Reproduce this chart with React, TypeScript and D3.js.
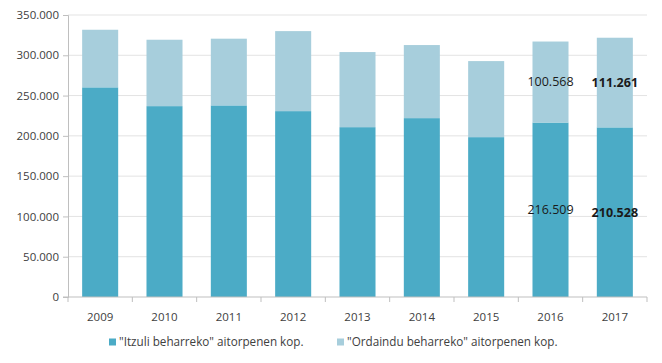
import { useEffect, useRef } from "react";
import * as d3 from "d3";

const years = ["2009", "2010", "2011", "2012", "2013", "2014", "2015", "2016", "2017"];
const itzuli = [260200, 236900, 237800, 230700, 210800, 222000, 198400, 216509, 210528];
const ordaindu = [71500, 82400, 82800, 99300, 93200, 90700, 94400, 100568, 111261];
const yTicks = [0, 50000, 100000, 150000, 200000, 250000, 300000, 350000];
const labelled = [
  { year: "2016", bold: false },
  { year: "2017", bold: true },
];
const legendNames = ['"Itzuli beharreko" aitorpenen kop.', '"Ordaindu beharreko" aitorpenen kop.'];

const DARK = "#4babc6";
const LIGHT = "#a7cedc";
const FONT = "'Open Sans', 'Noto Sans', sans-serif";

const fmt = (v: number) => d3.format(",")(v).replace(/,/g, ".");

export default function App() {
  const svgRef = useRef<SVGSVGElement>(null);

  useEffect(() => {
    if (!svgRef.current) return;
    const svg = d3.select(svgRef.current);
    svg.selectAll("*").remove();

    const width = 662, height = 363;
    const margin = { top: 15, right: 15, bottom: 66, left: 68 };
    const x = d3.scaleBand().domain(years).range([margin.left, width - margin.right]).paddingInner(0.44).paddingOuter(0.22);
    const y = d3.scaleLinear().domain([0, 350000]).range([height - margin.bottom, margin.top]);

    // grid
    svg.append("g").selectAll("line").data(yTicks.slice(1)).join("line")
      .attr("x1", margin.left).attr("x2", width - margin.right)
      .attr("y1", (d) => y(d)).attr("y2", (d) => y(d))
      .attr("stroke", "#e3e3e3").attr("stroke-width", 1);

    const data = years.map((yr, i) => ({ yr, a: itzuli[i], b: ordaindu[i] }));

    svg.append("g").selectAll("rect").data(data).join("rect")
      .attr("x", (d) => x(d.yr)!).attr("width", x.bandwidth())
      .attr("y", (d) => y(d.a)).attr("height", (d) => y(0) - y(d.a))
      .attr("fill", DARK);
    svg.append("g").selectAll("rect").data(data).join("rect")
      .attr("x", (d) => x(d.yr)!).attr("width", x.bandwidth())
      .attr("y", (d) => y(d.a + d.b)).attr("height", (d) => y(d.a) - y(d.a + d.b))
      .attr("fill", LIGHT);

    // axes
    const yAxis = svg.append("g").attr("transform", `translate(${margin.left},0)`)
      .call(d3.axisLeft(y).tickValues(yTicks).tickFormat((d) => fmt(d as number)).tickSize(5));
    yAxis.select(".domain").attr("stroke", "#bfbfbf");
    yAxis.selectAll(".tick line").attr("stroke", "#bfbfbf");
    yAxis.selectAll("text").attr("font-family", FONT).attr("font-size", 11.5).attr("fill", "#404040").attr("dx", -1);

    const bottom = svg.append("g").attr("transform", `translate(0,${y(0)})`);
    bottom.append("line").attr("x1", margin.left - 5).attr("x2", width - margin.right)
      .attr("stroke", "#bfbfbf");
    const step = x.step();
    bottom.selectAll("line.tk").data(d3.range(years.length + 1)).join("line").attr("class", "tk")
      .attr("x1", (i) => margin.left + i * step).attr("x2", (i) => margin.left + i * step)
      .attr("y1", 0).attr("y2", 5).attr("stroke", "#bfbfbf");
    bottom.selectAll("text").data(years).join("text")
      .attr("x", (d) => x(d)! + x.bandwidth() / 2).attr("y", 24)
      .attr("text-anchor", "middle").attr("font-family", FONT).attr("font-size", 11.5).attr("fill", "#404040")
      .text((d) => d);

    // value labels
    labelled.forEach(({ year, bold }) => {
      const i = years.indexOf(year);
      const cx = x(year)! + x.bandwidth() / 2;
      const segs = [
        { v: itzuli[i], mid: (y(0) + y(itzuli[i])) / 2 },
        { v: ordaindu[i], mid: (y(itzuli[i]) + y(itzuli[i] + ordaindu[i])) / 2 },
      ];
      segs.forEach((s) => {
        svg.append("text").attr("x", cx).attr("y", s.mid).attr("dy", "0.35em")
          .attr("text-anchor", "middle").attr("font-family", FONT).attr("font-size", 12.5)
          .attr("font-weight", bold ? 700 : 400).attr("fill", "#1a1a1a").text(fmt(s.v));
      });
    });

    // legend
    const lg = svg.append("g").attr("transform", `translate(0,${height - 21})`);
    const legendX = [109, 337];
    legendNames.forEach((name, i) => {
      lg.append("rect").attr("x", legendX[i]).attr("y", -3.5).attr("width", 7).attr("height", 7)
        .attr("fill", i === 0 ? DARK : LIGHT);
      lg.append("text").attr("x", legendX[i] + 10).attr("y", 0).attr("dy", "0.35em")
        .attr("font-family", FONT).attr("font-size", 11.7).attr("fill", "#404040").text(name);
    });
  }, []);

  return <svg ref={svgRef} width={662} height={363} style={{ display: "block", position: "absolute", left: 0, top: 0 }} />;
}
